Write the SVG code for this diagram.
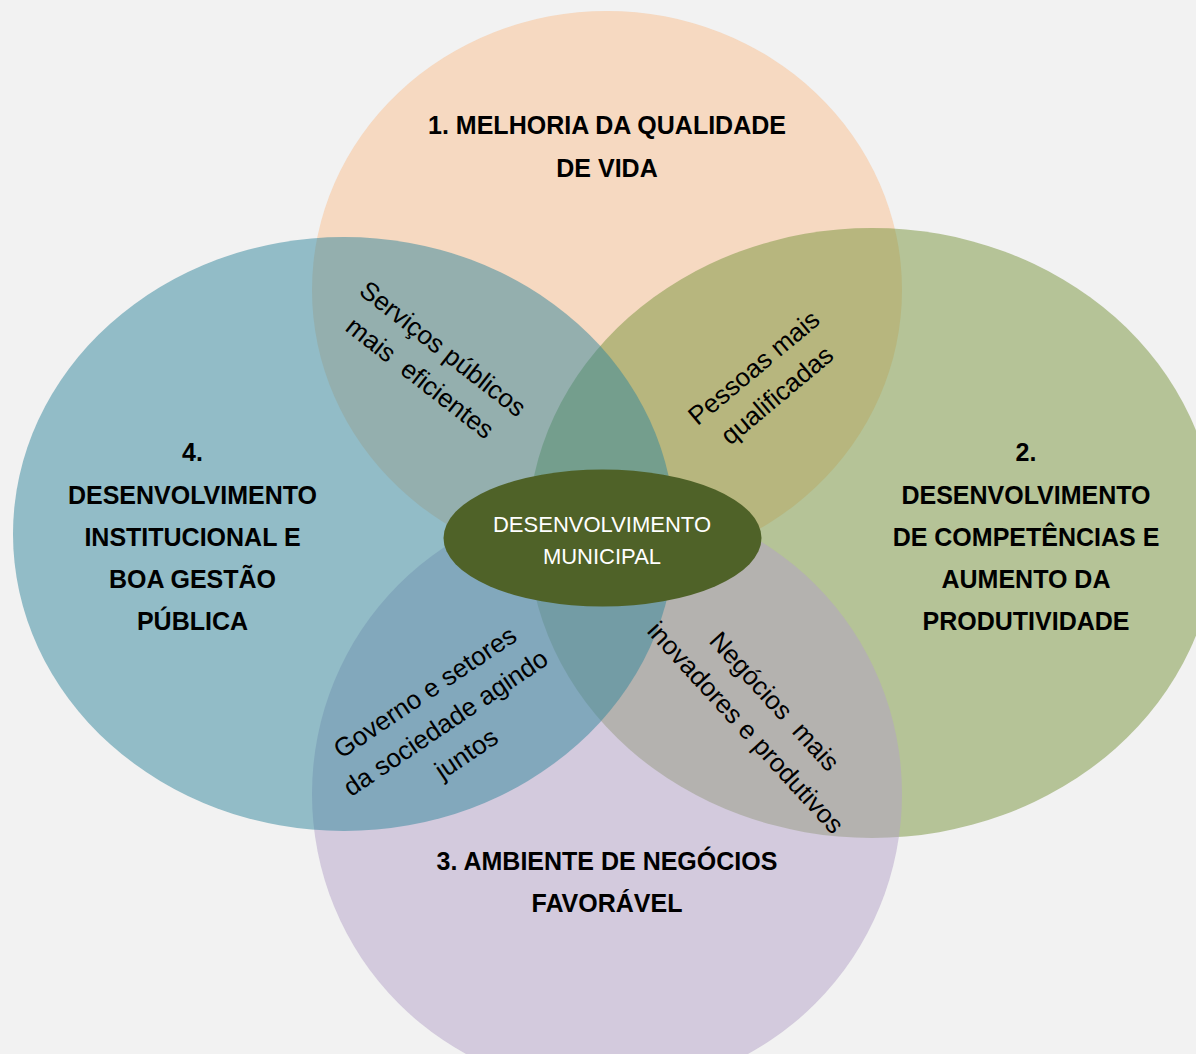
<svg xmlns="http://www.w3.org/2000/svg" width="1196" height="1054" viewBox="0 0 1196 1054">
<style>
.set{fill-opacity:0.5}
.head{font-family:"Liberation Sans",Arial,sans-serif;font-weight:bold;font-size:25px;fill:#000;text-anchor:middle}
.lens{font-family:"Liberation Sans",Arial,sans-serif;font-size:26px;fill:#000;text-anchor:middle}
.core{font-family:"Liberation Sans",Arial,sans-serif;font-size:22px;fill:#fff;text-anchor:middle}
</style>
<rect width="1196" height="1054" fill="#f2f2f2"/>
<g id="set1-qualidade-de-vida">
<ellipse class="set" cx="607" cy="290" rx="295" ry="279" fill="#fac090"/>
</g>
<g id="set2-competencias">
<ellipse class="set" cx="872" cy="533" rx="344" ry="305" fill="#77933c"/>
</g>
<g id="set3-ambiente-negocios">
<ellipse class="set" cx="607" cy="794" rx="295" ry="296" fill="#b3a2c7"/>
</g>
<g id="set4-desenvolvimento-institucional">
<ellipse class="set" cx="344" cy="534" rx="331" ry="297" fill="#31859c"/>
</g>
<g id="label1">
<text class="head" x="607" y="134">1. MELHORIA DA QUALIDADE</text>
<text class="head" x="607" y="177">DE VIDA</text>
</g>
<g id="label4">
<text class="head" x="192.5" y="461">4.</text>
<text class="head" x="192.5" y="504">DESENVOLVIMENTO</text>
<text class="head" x="192.5" y="546">INSTITUCIONAL E</text>
<text class="head" x="192.5" y="588">BOA GESTÃO</text>
<text class="head" x="192.5" y="630">PÚBLICA</text>
</g>
<g id="label2">
<text class="head" x="1026" y="461">2.</text>
<text class="head" x="1026" y="504">DESENVOLVIMENTO</text>
<text class="head" x="1026" y="546">DE COMPETÊNCIAS E</text>
<text class="head" x="1026" y="588">AUMENTO DA</text>
<text class="head" x="1026" y="630">PRODUTIVIDADE</text>
</g>
<g id="label3">
<text class="head" x="607" y="870">3. AMBIENTE DE NEGÓCIOS</text>
<text class="head" x="607" y="912">FAVORÁVEL</text>
</g>
<g id="overlap-servicos" transform="translate(431,364) rotate(38)">
<text class="lens" x="0" y="-10.5">Serviços públicos</text>
<text class="lens" x="0" y="26.5">mais&#160; eficientes</text>
</g>
<g id="overlap-pessoas" transform="translate(766,382) rotate(-40)">
<text class="lens" x="0" y="-10">Pessoas mais</text>
<text class="lens" x="0" y="26">qualificadas</text>
</g>
<g id="overlap-governo" transform="translate(446,723.5) rotate(-34)">
<text class="lens" x="0" y="-29">Governo e setores</text>
<text class="lens" x="0" y="8">da sociedade agindo</text>
<text class="lens" x="0" y="45">juntos</text>
</g>
<g id="overlap-negocios" transform="translate(759.5,715) rotate(47.5)">
<text class="lens" x="0" y="-11.5">Negócios&#160; mais</text>
<text class="lens" x="0" y="27.5">inovadores e produtivos</text>
</g>
<g id="center-desenvolvimento-municipal">
<ellipse cx="602.5" cy="538" rx="159" ry="68.5" fill="#4f6228"/>
<text class="core" x="602" y="532">DESENVOLVIMENTO</text>
<text class="core" x="602" y="564">MUNICIPAL</text>
</g>
</svg>
